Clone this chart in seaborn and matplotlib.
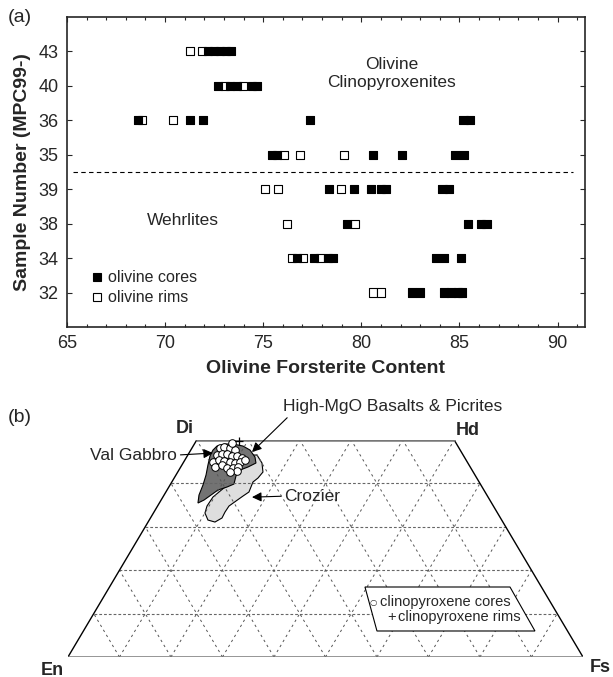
import numpy as np
import pandas as pd
import seaborn as sns
import matplotlib.pyplot as plt
from matplotlib.patches import Polygon
from matplotlib.ticker import MultipleLocator

# ---- panel (a): olivine Fo contents, rows bottom -> top
samples = ['32', '34', '38', '39', '35', '36', '40', '43']

rim_sample = ['43', '43', '40', '40', '36', '36', '35', '35', '35',
              '39', '39', '39', '38', '38', '34', '34', '34', '32', '32']
rim_fo = [71.26, 71.9, 73.04, 73.96, 68.82, 70.4, 76.05, 76.86, 79.1,
          75.08, 75.74, 78.95, 76.2, 79.66, 76.46, 77.02, 77.88, 80.58, 80.99]

core_sample = (['43'] * 5 + ['40'] * 5 + ['36'] * 6 + ['35'] * 6 +
               ['39'] * 7 + ['38'] * 4 + ['34'] * 7 + ['32'] * 6)
core_fo = [72.18, 72.48, 72.79, 73.1, 73.35,
           72.69, 73.3, 73.66, 74.42, 74.67,
           68.61, 71.26, 71.92, 77.37, 85.21, 85.52,
           75.44, 75.69, 80.58, 82.06, 84.76, 85.21,
           78.34, 79.61, 80.48, 80.99, 81.24, 84.14, 84.45,
           79.26, 85.42, 86.08, 86.38,
           76.71, 77.58, 78.29, 78.54, 83.79, 84.2, 85.06,
           82.57, 82.97, 84.2, 84.55, 84.91, 85.11]

# ---- panel (b): pyroxene compositions (Fs, Wo in mol%)
cpx_core_fs = [5.43, 6.10, 7.38, 8.58, 5.66, 6.52, 7.49, 8.69, 9.66, 10.86,
               5.69, 6.63, 7.71, 9.0, 10.08, 10.93, 11.67, 6.65, 7.78, 9.10,
               10.27, 11.12, 11.39, 10.15, 7.19]
cpx_core_wo = [48.15, 48.38, 48.15, 47.69, 46.54, 46.77, 46.77, 46.31, 46.31, 45.85,
               44.93, 45.39, 45.16, 44.93, 44.70, 44.93, 45.39, 43.78, 44.24, 43.55,
               43.55, 43.78, 42.85, 42.62, 49.31]
cpx_rim_fs = [8.32]
cpx_rim_wo = [49.77]

val_gabbro_fs = [4.31, 4.63, 5.95, 7.50, 9.68, 11.50, 13.27, 14.15, 13.06, 11.86, 11.77,
                 12.30, 11.29, 9.89, 9.11, 8.33, 7.50, 6.78, 6.40, 5.84, 5.06, 4.42]
val_gabbro_wo = [47.69, 48.61, 49.08, 49.08, 48.61, 47.69, 46.08, 44.70, 43.78, 43.08, 41.70,
                 39.86, 39.17, 38.48, 37.32, 36.17, 35.48, 37.32, 39.63, 41.93, 44.24, 46.31]
crozier_fs = [10.13, 13.43, 15.32, 16.55, 16.27, 15.76, 16.13, 15.44, 14.65, 13.87,
              13.79, 13.89, 12.99, 11.40, 10.01, 9.60, 9.72, 10.91, 11.42, 11.24]
crozier_wo = [46.54, 46.54, 44.70, 42.62, 41.24, 40.32, 38.02, 37.09, 35.94, 34.79,
              33.41, 32.03, 31.10, 31.56, 33.18, 34.79, 36.86, 39.17, 41.24, 43.55]

sns.set_style('ticks')
plt.rcParams['font.family'] = ['Liberation Sans', 'DejaVu Sans']
plt.rcParams['axes.linewidth'] = 1.2

fig = plt.figure(figsize=(6.13, 6.77), dpi=100)

# ================= (a)
ax = fig.add_axes([0.1093, 0.5170, 0.8450, 0.4579])
pos = {s: i for i, s in enumerate(samples)}
df = pd.DataFrame({
    'fo': rim_fo + core_fo,
    'row': [pos[s] for s in rim_sample + core_sample],
    'kind': ['olivine rims'] * len(rim_fo) + ['olivine cores'] * len(core_fo),
})
sns.scatterplot(data=df, x='fo', y='row', hue='kind',
                hue_order=['olivine cores', 'olivine rims'],
                palette={'olivine cores': 'black', 'olivine rims': 'white'},
                marker='s', s=34, edgecolor='black', linewidth=0.8, ax=ax, zorder=3)
ax.axhline(3.5, xmin=0.012, xmax=0.977, color='black', lw=0.8, ls=(0, (4, 3)))

ax.set_xlim(65, 91.4)
ax.set_ylim(-1, 8)
ax.xaxis.set_major_locator(MultipleLocator(5))
ax.xaxis.set_minor_locator(MultipleLocator(1))
ax.set_xticks([65, 70, 75, 80, 85, 90])
ax.set_yticks(range(len(samples)))
ax.set_yticklabels(samples)
ax.tick_params(which='both', direction='in', top=True, right=True,
               labelsize=13, pad=6, width=0.8)
ax.tick_params(which='major', length=3.5)
ax.tick_params(which='minor', length=2.5)
ax.set_xlabel('Olivine Forsterite Content', fontsize=14, fontweight='bold')
ax.set_ylabel('Sample Number (MPC99-)', fontsize=14, fontweight='bold')
ax.xaxis.set_label_coords(0.5, -0.105)
ax.yaxis.set_label_coords(-0.07, 0.5)

ax.text(81.55, 6.36, 'Olivine\nClinopyroxenites', ha='center', va='center',
        fontsize=12.5, linespacing=1.25)
ax.text(70.9, 2.09, 'Wehrlites', ha='center', va='center', fontsize=12.5)
sns.move_legend(ax, 'lower left', bbox_to_anchor=(0.045, 0.07), title=None,
                frameon=False, fontsize=11.5, handlelength=0.8,
                handletextpad=0.3, borderpad=0, labelspacing=0.3,
                borderaxespad=0)

fig.text(20 / 613, 1 - 18 / 677, '(a)', fontsize=14, ha='center', va='center')
fig.text(20 / 613, 1 - 417 / 677, '(b)', fontsize=14, ha='center', va='center')

# ================= (b)
H = np.sqrt(3) / 2


def tern(fs, wo):
    fs = np.asarray(fs, float)
    wo = np.asarray(wo, float)
    return fs + wo / 2, wo * H


ax2 = fig.add_axes([0.1109, 0.02954, 0.8401, 0.3205])
ax2.set_xlim(0, 100)
ax2.set_ylim(0, 50 * H)
ax2.axis('off')

# grid
for wo in [10, 20, 30, 40]:
    gx, gy = tern([0, 100 - wo], [wo, wo])
    ax2.plot(gx, gy, color='#666666', lw=0.8, ls=(0, (2.5, 1.8)), zorder=2)
for f in range(10, 100, 10):
    top = min(50, 100 - f)
    gx, gy = tern([f, f], [0, top])
    ax2.plot(gx, gy, color='#555555', lw=0.7, ls=(0, (2.5, 3.5)), zorder=2)
    gx, gy = tern([100 - f, 100 - f - top], [0, top])
    ax2.plot(gx, gy, color='#555555', lw=0.7, ls=(0, (2.5, 3.5)), zorder=2)

# outline
ox, oy = tern([0, 0], [0, 50])
ax2.plot(ox, oy, color='black', lw=1.0, zorder=3)
ox, oy = tern([100, 50], [0, 50])
ax2.plot(ox, oy, color='black', lw=1.0, zorder=3)
ox, oy = tern([0, 50], [50, 50])
ax2.plot(ox, oy, color='#777777', lw=1.8, zorder=3)
ox, oy = tern([0, 100], [0, 0])
ax2.plot(ox, oy, color='#777777', lw=1.8, zorder=3)

# fields
px, py = tern(crozier_fs, crozier_wo)
ax2.add_patch(Polygon(np.column_stack([px, py]), closed=True, facecolor='#dedede',
                      edgecolor='black', lw=0.8, zorder=1))
px, py = tern(val_gabbro_fs, val_gabbro_wo)
ax2.add_patch(Polygon(np.column_stack([px, py]), closed=True, facecolor='#737373',
                      edgecolor='black', lw=0.8, zorder=1.5))

cx, cy = tern(cpx_core_fs, cpx_core_wo)
sns.scatterplot(x=cx, y=cy, ax=ax2, marker='o', s=30, color='white',
                edgecolor='black', linewidth=0.7, zorder=5, clip_on=False)
rx, ry = tern(cpx_rim_fs, cpx_rim_wo)
sns.scatterplot(x=rx, y=ry, ax=ax2, marker='+', s=34, color='black',
                linewidth=0.9, zorder=5, clip_on=False)

lab = dict(fontsize=13, fontweight='bold', ha='center', va='center')
ax2.text(22.7, 45.7, 'Di', **lab)
ax2.text(77.7, 45.3, 'Hd', **lab)
ax2.text(-3.1, -2.6, 'En', **lab)
ax2.text(103.3, -2.0, 'Fs', **lab)

arrow = dict(arrowstyle='-|>', color='black', lw=0.8, mutation_scale=14,
             shrinkA=0, shrinkB=0)
ax2.annotate('High-MgO Basalts & Picrites', xy=(35.73, 40.9), xytext=(63.1, 49.9),
             fontsize=12.5, ha='center', va='center', arrowprops=dict(arrow, relpos=(0.04, 0.1)),
             annotation_clip=False, zorder=6)
ax2.annotate('Val Gabbro', xy=(28.15, 40.7), xytext=(21.2, 40.3),
             fontsize=12.5, ha='right', va='center', arrowprops=dict(arrow, relpos=(1, 0.5)),
             annotation_clip=False, zorder=6)
ax2.annotate('Crozier', xy=(35.73, 31.9), xytext=(42.0, 32.1),
             fontsize=12.5, ha='left', va='center', arrowprops=dict(arrow, relpos=(0, 0.5)),
             annotation_clip=False, zorder=6)

# legend box
ax2.add_patch(Polygon([[57.67, 13.97], [85.83, 13.97], [90.68, 5.19], [60.0, 5.19]],
                      closed=True, facecolor='white', edgecolor='black', lw=0.8, zorder=7))
ax2.text(59.2, 10.9, '\u25cb', fontsize=6, family='DejaVu Sans', ha='center',
         va='center', zorder=8)
ax2.text(60.5, 10.9, 'clinopyroxene cores', fontsize=10.5, va='center', zorder=8)
ax2.text(62.9, 7.9, '+', fontsize=10.5, ha='center', va='center', zorder=8)
ax2.text(64.1, 7.9, 'clinopyroxene rims', fontsize=10.5, va='center', zorder=8)

fig.savefig('out.png', dpi=100)
